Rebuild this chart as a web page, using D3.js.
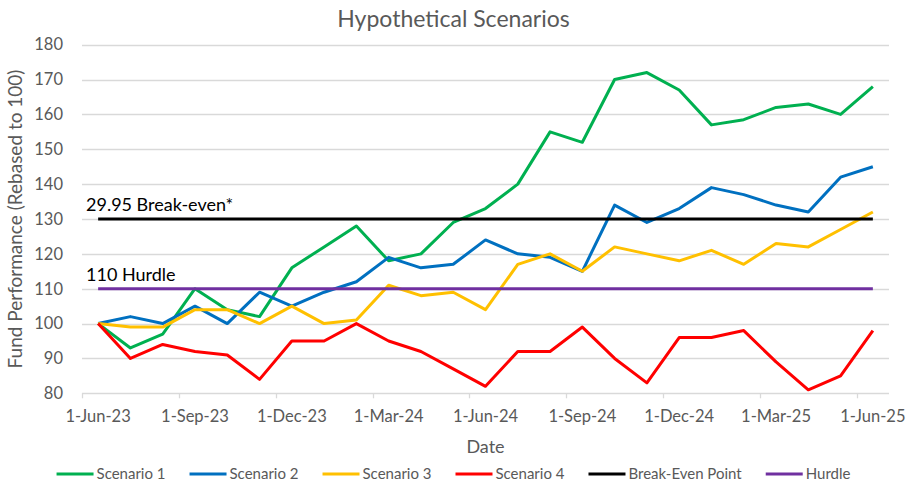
<!DOCTYPE html>
<html>
<head>
<meta charset="utf-8">
<script src="https://cdn.jsdelivr.net/npm/d3@7"></script>
<style>
  body { margin: 0; background: #fff; }
  text { font-family: Lato, "Open Sans", sans-serif; }
</style>
</head>
<body>
<svg class="chart"></svg>
<script>
const width = 907;
const height = 485;
const margin = { top: 44.7, right: 18, bottom: 92, left: 82 };

// monthly observations, 1-Jun-23 .. 1-Jun-25
const months = [
  "2023-06-01", "2023-07-01", "2023-08-01", "2023-09-01", "2023-10-01",
  "2023-11-01", "2023-12-01", "2024-01-01", "2024-02-01", "2024-03-01",
  "2024-04-01", "2024-05-01", "2024-06-01", "2024-07-01", "2024-08-01",
  "2024-09-01", "2024-10-01", "2024-11-01", "2024-12-01", "2025-01-01",
  "2025-02-01", "2025-03-01", "2025-04-01", "2025-05-01", "2025-06-01"
];
const tickMonths = ["2023-06-01", "2023-09-01", "2023-12-01", "2024-03-01", "2024-06-01",
  "2024-09-01", "2024-12-01", "2025-03-01", "2025-06-01"];
const tickLabels = ["1-Jun-23", "1-Sep-23", "1-Dec-23", "1-Mar-24", "1-Jun-24",
  "1-Sep-24", "1-Dec-24", "1-Mar-25", "1-Jun-25"];
const yTicks = [80, 90, 100, 110, 120, 130, 140, 150, 160, 170, 180];

const scenario1 = [100, 93, 97, 110, 104, 102, 116, 122, 128, 118, 120, 129, 133,
  140, 155, 152, 170, 172, 167, 157, 158.5, 162, 163, 160, 168];
const scenario2 = [100, 102, 100, 105, 100, 109, 105, 109, 112, 119, 116, 117, 124,
  120, 119, 115, 134, 129, 133, 139, 137, 134, 132, 142, 145];
const scenario3 = [100, 99, 99, 104, 104, 100, 105, 100, 101, 111, 108, 109, 104,
  117, 120, 115, 122, 120, 118, 121, 117, 123, 122, 127, 132];
const scenario4 = [100, 90, 94, 92, 91, 84, 95, 95, 100, 95, 92, 87, 82,
  92, 92, 99, 90, 83, 96, 96, 98, 89, 81, 85, 98];
const breakEven = 130;
const hurdle = 110;

const seriesNames = ["Scenario 1", "Scenario 2", "Scenario 3", "Scenario 4", "Break-Even Point", "Hurdle"];
const seriesColors = ["#00b050", "#0070c0", "#ffc000", "#ff0000", "#000000", "#7030a0"];
const seriesValues = [
  scenario1, scenario2, scenario3, scenario4,
  months.map(() => breakEven),
  months.map(() => hurdle)
];
const annotations = [
  { value: breakEven, text: "29.95 Break-even*" },
  { value: hurdle, text: "110 Hurdle" }
];

const svg = d3.select(".chart").attr("width", width).attr("height", height);

const x = d3.scaleBand().domain(months).range([margin.left, width - margin.right]);
const y = d3.scaleLinear().domain([80, 180]).range([height - margin.bottom + 0.3, margin.top]);
const xc = (m) => x(m) + x.bandwidth() / 2;

// gridlines
svg.append("g")
  .selectAll("line")
  .data(yTicks)
  .enter()
  .append("line")
  .attr("x1", margin.left)
  .attr("x2", width - margin.right)
  .attr("y1", (d) => Math.round(y(d)) + 0.5)
  .attr("y2", (d) => Math.round(y(d)) + 0.5)
  .attr("stroke", "#d9d9d9")
  .attr("stroke-width", 1.3);

// x tick marks sit between categories, like Excel
svg.append("g")
  .selectAll("line")
  .data(tickMonths)
  .enter()
  .append("line")
  .attr("x1", (d) => Math.round(x(d)) + 0.5)
  .attr("x2", (d) => Math.round(x(d)) + 0.5)
  .attr("y1", y(80))
  .attr("y2", y(80) + 5)
  .attr("stroke", "#d9d9d9")
  .attr("stroke-width", 1.3);

const xAxis = svg.append("g")
  .attr("transform", `translate(0,${y(80)})`)
  .call(d3.axisBottom(x).tickValues(tickMonths).tickSize(0).tickPadding(17)
    .tickFormat((d, i) => tickLabels[i]));
xAxis.select(".domain").remove();
xAxis.selectAll("text").style("font-size", "16.5px").attr("fill", "#595959");

const yAxis = svg.append("g")
  .attr("transform", `translate(${margin.left},0)`)
  .call(d3.axisLeft(y).tickValues(yTicks).tickSize(0).tickPadding(19));
yAxis.select(".domain").remove();
yAxis.selectAll("text").style("font-size", "16.5px").attr("fill", "#595959");

// titles
svg.append("text")
  .attr("x", width / 2)
  .attr("y", 27)
  .attr("text-anchor", "middle")
  .attr("fill", "#595959")
  .style("font-size", "23px")
  .text("Hypothetical Scenarios");

svg.append("text")
  .attr("x", (margin.left + width - margin.right) / 2)
  .attr("y", 453)
  .attr("text-anchor", "middle")
  .attr("fill", "#595959")
  .style("font-size", "18px")
  .text("Date");

svg.append("text")
  .attr("transform", `translate(22,${(y(80) + y(180)) / 2}) rotate(-90)`)
  .attr("text-anchor", "middle")
  .attr("fill", "#595959")
  .style("font-size", "19px")
  .text("Fund Performance (Rebased to 100)");

// series
const line = d3.line()
  .x((d, i) => xc(months[i]))
  .y((d) => y(d));

svg.append("g")
  .selectAll("path")
  .data(seriesValues)
  .enter()
  .append("path")
  .attr("d", (d) => line(d))
  .attr("fill", "none")
  .attr("stroke", (d, i) => seriesColors[i])
  .attr("stroke-width", 3)
  .attr("stroke-linejoin", "round");

svg.append("g")
  .selectAll("text")
  .data(annotations)
  .enter()
  .append("text")
  .attr("x", 86)
  .attr("y", (d) => y(d.value) - 8)
  .attr("fill", "#000")
  .style("font-size", "18px")
  .text((d) => d.text);

// legend
const legend = svg.append("g");
const items = legend.selectAll("g")
  .data(seriesNames)
  .enter()
  .append("g");
items.append("line")
  .attr("x1", 0)
  .attr("x2", 37)
  .attr("y1", 0)
  .attr("y2", 0)
  .attr("stroke", (d, i) => seriesColors[i])
  .attr("stroke-width", 3);
items.append("text")
  .attr("x", 40)
  .attr("y", 0)
  .attr("dy", "0.35em")
  .attr("fill", "#595959")
  .style("font-size", "15px")
  .text((d) => d);

let offset = 0;
items.each(function () {
  const w = 40 + this.querySelector("text").getComputedTextLength();
  d3.select(this).attr("transform", `translate(${offset},474)`);
  offset += w + 24;
});
const total = offset - 24;
legend.attr("transform", `translate(${width / 2 - total / 2},0)`);
</script>
</body>
</html>
